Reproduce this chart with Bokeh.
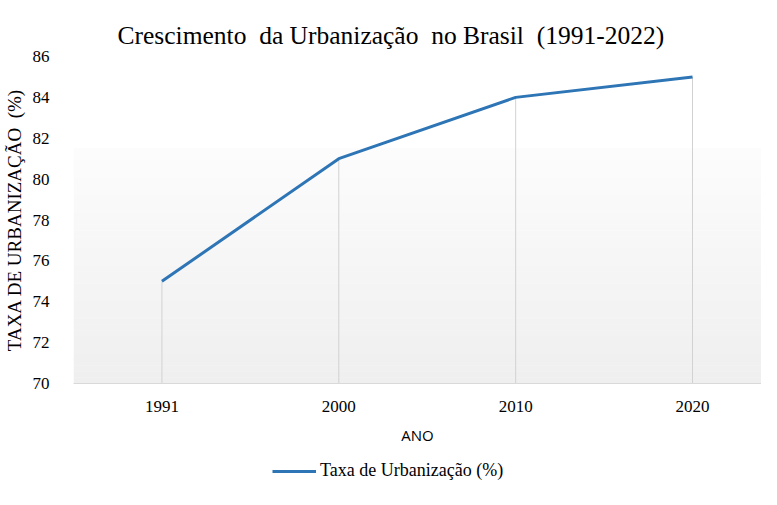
import numpy as np
from bokeh.plotting import figure
from bokeh.layouts import column
from bokeh.models import BoxAnnotation, Legend, LegendItem, FixedTicker, Range1d
from bokeh.embed import file_html
from bokeh.resources import INLINE

years = ["1991", "2000", "2010", "2020"]
taxa = [75, 81, 84, 85]
y_ticks = [70, 72, 74, 76, 78, 80, 82, 84, 86]
series_name = "Taxa de Urbanização (%)"

SERIF = "Liberation Serif"
NB = "\u00a0"
LINE_COLOR = "#2e75b6"
xs = list(range(len(years)))

p = figure(width=761, height=450, output_backend="svg", toolbar_location=None,
           x_range=Range1d(-0.5, len(years) - 0.61), y_range=Range1d(y_ticks[0], y_ticks[-1]),
           min_border_left=69, min_border_right=0, min_border_top=56, min_border_bottom=67)

p.title.text = f"Crescimento{NB} da Urbanização{NB} no Brasil{NB} (1991-2022)"
p.title.text_font = SERIF
p.title.text_font_size = "25.5px"
p.title.text_font_style = "normal"
p.title.text_color = "#000000"
p.title.align = "left"
p.title.offset = 44
p.title.standoff = 10
p.title.vertical_align = "top"

# background gradient (decoration)
n = 40
lo, hi = y_ticks[0], 81.5
edges = np.linspace(lo, hi, n + 1)
for i in range(n):
    t = i / (n - 1)
    g = int(round(239 + t * (252 - 239)))
    p.add_layout(BoxAnnotation(bottom=edges[i], top=edges[i + 1] + 0.02,
                               fill_color=(g, g, g), fill_alpha=1, line_color=None,
                               level="underlay"))

p.outline_line_color = None
p.background_fill_color = "white"
p.border_fill_color = "white"
p.grid.visible = False

# drop lines
p.segment(x0=xs, y0=[y_ticks[0]] * len(xs), x1=xs, y1=taxa, line_color="#d2d2d2", line_width=1)
r = p.line(xs, taxa, line_color=LINE_COLOR, line_width=3)

p.xaxis.ticker = FixedTicker(ticks=xs)
p.xaxis.major_label_overrides = {i: y for i, y in enumerate(years)}
p.xaxis.axis_label = "ANO"
p.xaxis.axis_label_text_font = "Open Sans"
p.xaxis.axis_label_text_font_size = "15px"
p.xaxis.axis_label_text_font_style = "normal"
p.xaxis.axis_label_standoff = 10
p.xaxis.major_label_text_font = SERIF
p.xaxis.major_label_text_font_size = "17px"
p.xaxis.major_label_standoff = 11
p.xaxis.axis_line_color = "#d9d9d9"
p.xaxis.major_tick_line_color = None
p.xaxis.minor_tick_line_color = None

p.yaxis.ticker = FixedTicker(ticks=y_ticks)
p.yaxis.axis_label = f"TAXA DE URBANIZAÇÃO{NB} (%)"
p.yaxis.axis_label_text_font = SERIF
p.yaxis.axis_label_text_font_size = "19px"
p.yaxis.axis_label_text_font_style = "normal"
p.yaxis.axis_label_standoff = 5
p.yaxis.major_label_text_font = SERIF
p.yaxis.major_label_text_font_size = "17px"
p.yaxis.major_label_standoff = 18
p.yaxis.axis_line_color = None
p.yaxis.major_tick_line_color = None
p.yaxis.minor_tick_line_color = None
p.axis.major_label_text_color = "#000000"
p.axis.axis_label_text_color = "#000000"

# legend strip below the chart (its line lies outside this strip's ranges)
p2 = figure(width=761, height=39, output_backend="svg", toolbar_location=None,
            x_range=Range1d(100, 101), y_range=Range1d(0, 1),
            x_axis_location=None, y_axis_location=None,
            min_border_left=0, min_border_right=0, min_border_top=0, min_border_bottom=0)
p2.outline_line_color = None
p2.grid.visible = False
p2.border_fill_color = "white"
p2.background_fill_color = "white"
r2 = p2.line(xs, taxa, line_color=LINE_COLOR, line_width=3)
legend = Legend(items=[LegendItem(label=series_name, renderers=[r2])],
                orientation="horizontal", location=(199, 8),
                label_text_font=SERIF, label_text_font_size="18px",
                label_text_color="#000000",
                border_line_color=None, background_fill_alpha=0,
                glyph_width=44, label_standoff=4, margin=0, padding=0)
p2.add_layout(legend, "center")

layout = column(p, p2, spacing=0)
open("out.html", "w").write(file_html(layout, INLINE))
